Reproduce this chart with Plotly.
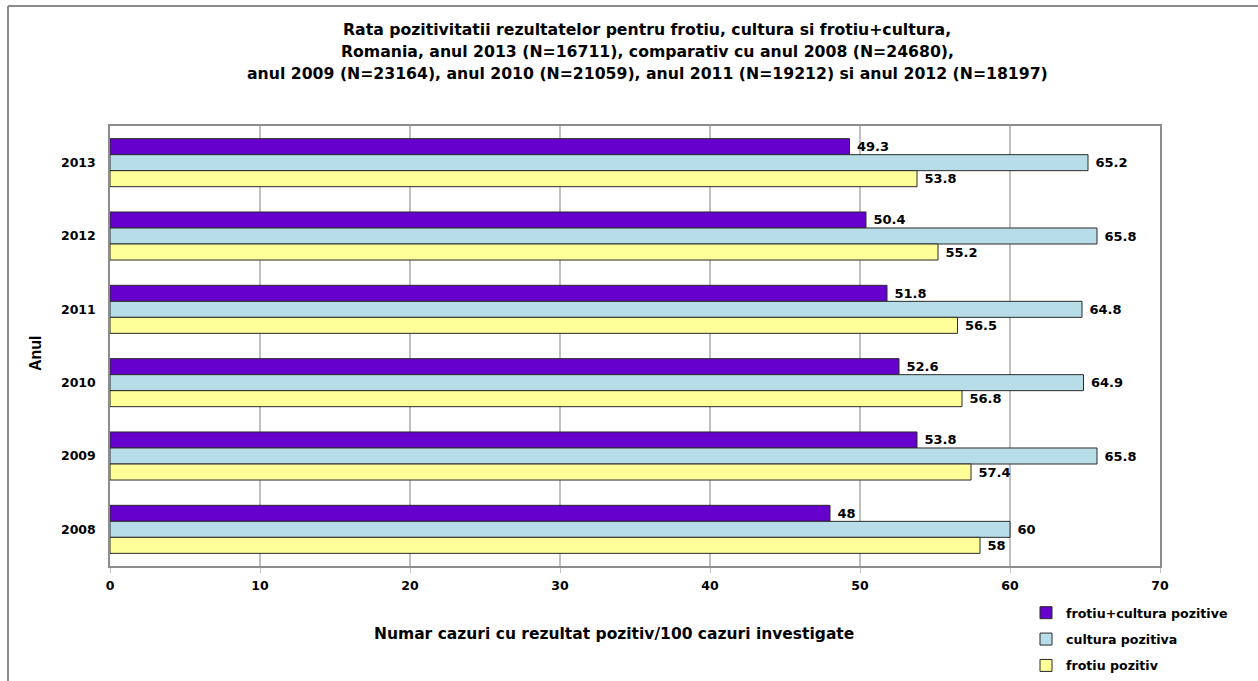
import plotly.graph_objects as go

years = ["2013", "2012", "2011", "2010", "2009", "2008"]
frotiu_cultura = [49.3, 50.4, 51.8, 52.6, 53.8, 48]
cultura = [65.2, 65.8, 64.8, 64.9, 65.8, 60]
frotiu = [53.8, 55.2, 56.5, 56.8, 57.4, 58]
x_ticks = [0, 10, 20, 30, 40, 50, 60, 70]
title_lines = [
    "Rata pozitivitatii rezultatelor pentru frotiu, cultura si frotiu+cultura,",
    "Romania, anul 2013 (N=16711), comparativ cu anul 2008 (N=24680),",
    "anul 2009 (N=23164), anul 2010 (N=21059), anul 2011 (N=19212) si anul 2012 (N=18197)",
]

WIDE = "DejaVu Sans, Verdana, sans-serif"
ARIAL = "Arial, Liberation Sans, sans-serif"
W, H = 1258, 681
L, R, T, B = 110, W - 1160, 126, H - 566
PW, PH = W - L - R, H - T - B

def px2x(px):
    return (px - L) / PW

def py2y(py):
    return (H - B - py) / PH

fig = go.Figure()
series = [
    ("frotiu+cultura pozitive", frotiu_cultura, "#6600CC"),
    ("cultura pozitiva", cultura, "#B7DEE8"),
    ("frotiu pozitiv", frotiu, "#FFFF99"),
]
for i, (name, vals, col) in enumerate(series):
    fig.add_trace(go.Bar(
        name=name, y=years, x=vals, orientation="h",
        marker=dict(color=col, line=dict(color="#2A2A2A", width=1)),
        text=[f"{v:g}" for v in vals], textposition="outside",
        texttemplate=" %{text}",
        textfont=dict(family=WIDE, size=13, color="#000000", weight="bold"),
        cliponaxis=False, legendgroup=f"g{i}",
    ))

fig.update_layout(
    width=W, height=H,
    margin=dict(l=L, r=R, t=T, b=B, pad=0, autoexpand=False),
    paper_bgcolor="white", plot_bgcolor="white",
    barmode="group", bargap=0.345, bargroupgap=0,
    font=dict(family=WIDE, size=13, color="#000000"),
    showlegend=True,
    legend=dict(
        xref="container", yref="container",
        x=1026 / W, y=1 - 598 / H, xanchor="left", yanchor="top",
        traceorder="grouped", tracegroupgap=7,
        font=dict(family=WIDE, size=12.6, weight="bold"),
        bgcolor="rgba(0,0,0,0)",
    ),
    xaxis=dict(
        range=[0, 70], tickvals=x_ticks, ticktext=[str(v) for v in x_ticks],
        showgrid=True, gridcolor="#C0C0C0", gridwidth=1.5,
        showline=True, linecolor="#8C8C8C", linewidth=1.5, mirror=True,
        ticks="outside", ticklen=5, tickcolor="#C0C0C0",
        ticklabelstandoff=2,
        tickfont=dict(family=WIDE, size=12.5, weight="bold"),
        zeroline=False, fixedrange=True,
    ),
    yaxis=dict(
        type="category", categoryorder="array", categoryarray=years,
        autorange="reversed",
        showgrid=False, showline=True, linecolor="#8C8C8C", linewidth=1.5, mirror=True,
        ticks="", ticklabelstandoff=10,
        tickfont=dict(family=WIDE, size=12.5, weight="bold"),
        fixedrange=True,
    ),
)

for line, cy in zip(title_lines, [30, 52, 73.5]):
    fig.add_annotation(
        text=line, xref="paper", yref="paper", x=px2x(647), y=py2y(cy),
        xanchor="center", yanchor="middle", showarrow=False,
        font=dict(family=WIDE, size=15.7, weight="bold"),
    )
fig.add_annotation(
    text="Numar cazuri cu rezultat pozitiv/100 cazuri investigate",
    xref="paper", yref="paper", x=px2x(614), y=py2y(634), xanchor="center", yanchor="middle",
    showarrow=False, font=dict(family=WIDE, size=15.5, weight="bold"),
)
fig.add_annotation(
    text="Anul", textangle=-90,
    xref="paper", yref="paper", x=px2x(35), y=py2y(353), xanchor="center", yanchor="middle",
    showarrow=False, font=dict(family=ARIAL, size=16, weight="bold"),
)
# outer frame (left and top edges visible)
fig.add_shape(type="line", xref="paper", yref="paper",
              x0=px2x(8), x1=px2x(8), y0=py2y(700), y1=py2y(6),
              line=dict(color="#8C8C8C", width=2))
fig.add_shape(type="line", xref="paper", yref="paper",
              x0=px2x(8), x1=px2x(1300), y0=py2y(6), y1=py2y(6),
              line=dict(color="#8C8C8C", width=2))

fig.write_html("out.html")
